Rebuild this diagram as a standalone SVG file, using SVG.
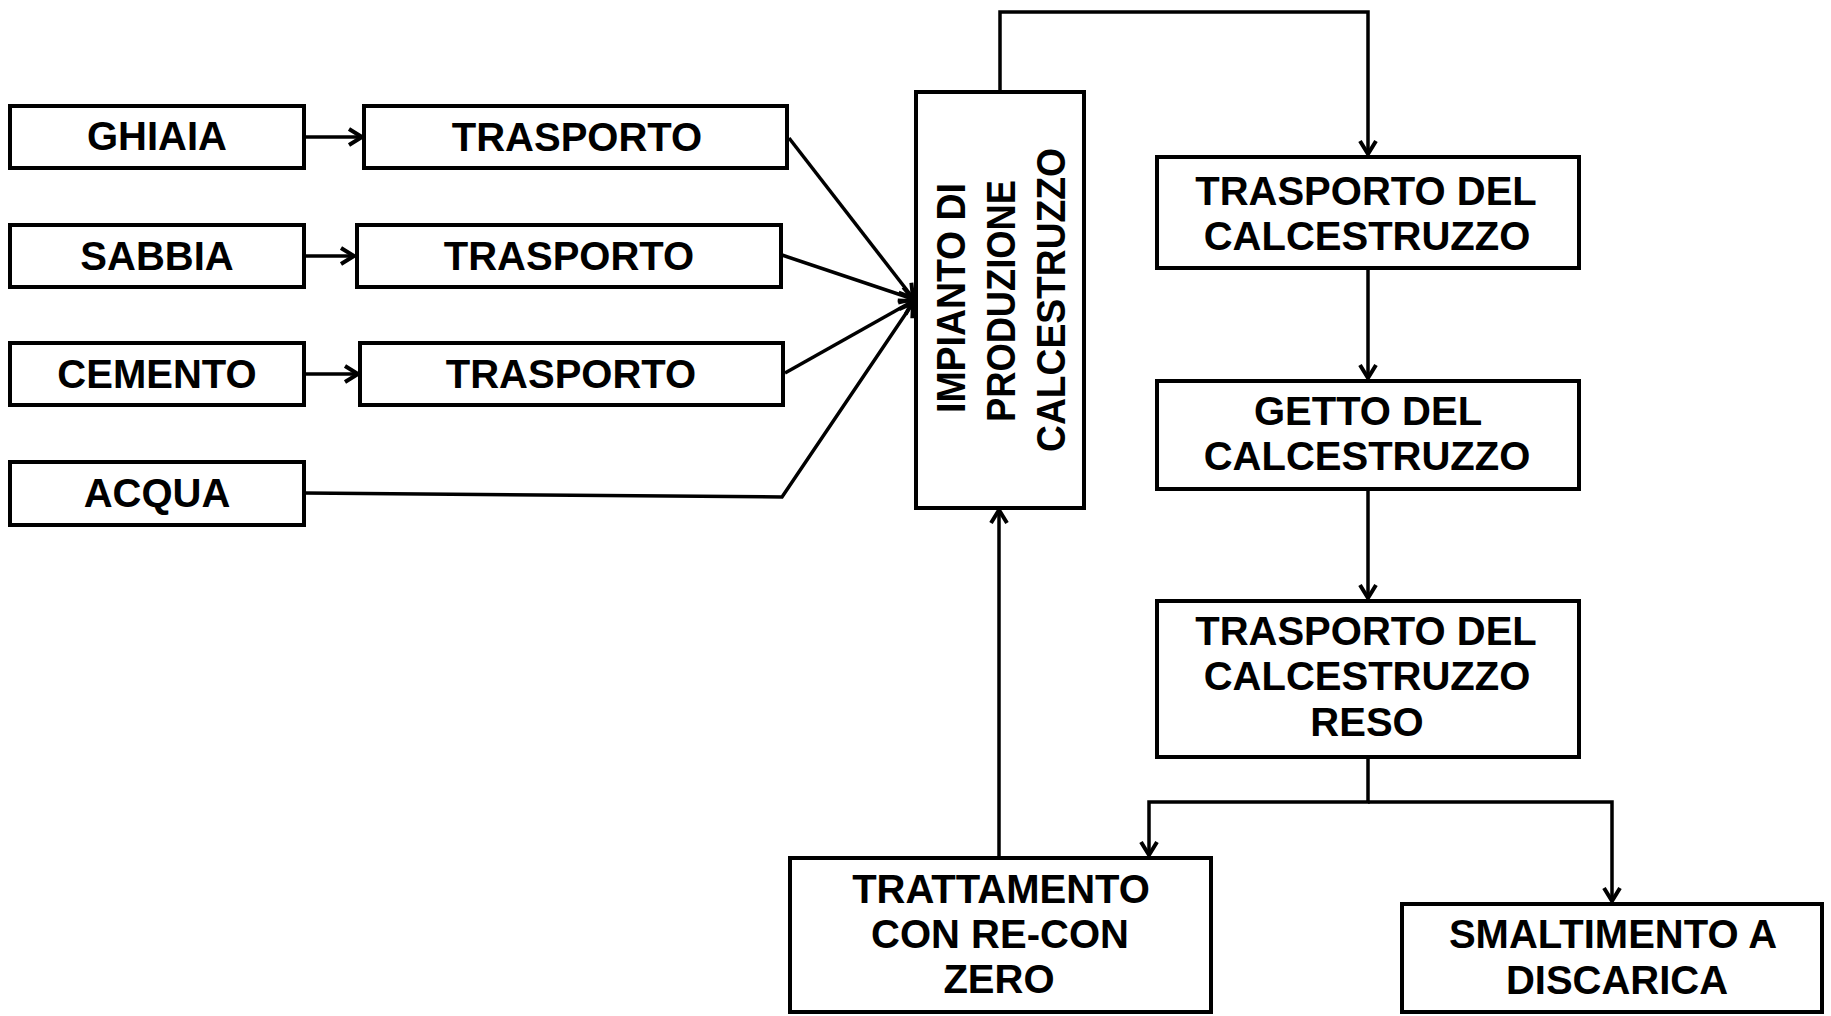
<svg xmlns="http://www.w3.org/2000/svg" width="1831" height="1016" viewBox="0 0 1831 1016">
<style>
.box{fill:#fff;stroke:#000;stroke-width:4}
.t{font-family:"Liberation Sans",Arial,sans-serif;font-weight:bold;font-size:40px;text-anchor:middle;fill:#000}
.c{fill:none;stroke:#000;stroke-width:3.5;stroke-linejoin:miter}
</style>
<defs>
<marker id="ah" markerUnits="userSpaceOnUse" markerWidth="18" markerHeight="20" refX="15" refY="10" orient="auto" viewBox="0 0 18 20">
<path d="M2,2 L15,10 L2,18" fill="none" stroke="#000" stroke-width="4"/>
</marker>
</defs>
<rect width="1831" height="1016" fill="#fff"/>
<g id="connectors">
<line class="c" x1="304" y1="137" x2="362" y2="137" marker-end="url(#ah)"/>
<line class="c" x1="304" y1="256" x2="354" y2="256" marker-end="url(#ah)"/>
<line class="c" x1="304" y1="374" x2="358" y2="374" marker-end="url(#ah)"/>
<line class="c" x1="789" y1="138" x2="913" y2="298" marker-end="url(#ah)"/>
<line class="c" x1="782" y1="255" x2="913" y2="299" marker-end="url(#ah)"/>
<line class="c" x1="785" y1="373" x2="913" y2="301" marker-end="url(#ah)"/>
<polyline class="c" points="304,493 782,497 913,303" marker-end="url(#ah)"/>
<polyline class="c" points="1000,91 1000,12 1368,12 1368,154" marker-end="url(#ah)"/>
<line class="c" x1="1368" y1="269" x2="1368" y2="378" marker-end="url(#ah)"/>
<line class="c" x1="1368" y1="490" x2="1368" y2="598" marker-end="url(#ah)"/>
<polyline class="c" points="1368,757 1368,802 1149,802 1149,855" marker-end="url(#ah)"/>
<polyline class="c" points="1368,802 1612,802 1612,901" marker-end="url(#ah)"/>
<line class="c" x1="999" y1="857" x2="999" y2="510" marker-end="url(#ah)"/>
</g>
<g id="ghiaia"><rect class="box" x="10" y="106" width="294" height="62"/><text class="t" x="157" y="150">GHIAIA</text></g>
<g id="trasporto1"><rect class="box" x="364" y="106" width="423" height="62"/><text class="t" x="577" y="151">TRASPORTO</text></g>
<g id="sabbia"><rect class="box" x="10" y="225" width="294" height="62"/><text class="t" x="157" y="270">SABBIA</text></g>
<g id="trasporto2"><rect class="box" x="357" y="225" width="424" height="62"/><text class="t" x="569" y="270">TRASPORTO</text></g>
<g id="cemento"><rect class="box" x="10" y="343" width="294" height="62"/><text class="t" x="157" y="388">CEMENTO</text></g>
<g id="trasporto3"><rect class="box" x="360" y="343" width="423" height="62"/><text class="t" x="571" y="388">TRASPORTO</text></g>
<g id="acqua"><rect class="box" x="10" y="462" width="294" height="63"/><text class="t" x="157" y="507">ACQUA</text></g>
<g id="impianto"><rect class="box" x="916" y="92" width="168" height="416"/>
<text class="t" transform="translate(965,298) rotate(-90)" x="0" y="0" textLength="230" lengthAdjust="spacingAndGlyphs">IMPIANTO DI</text>
<text class="t" transform="translate(1015,301) rotate(-90)" x="0" y="0" textLength="242" lengthAdjust="spacingAndGlyphs">PRODUZIONE</text>
<text class="t" transform="translate(1065,300) rotate(-90)" x="0" y="0" textLength="304" lengthAdjust="spacingAndGlyphs">CALCESTRUZZO</text>
</g>
<g id="trasporto-cls"><rect class="box" x="1157" y="157" width="422" height="111"/><text class="t" x="1366" y="205">TRASPORTO DEL</text><text class="t" x="1367" y="250">CALCESTRUZZO</text></g>
<g id="getto"><rect class="box" x="1157" y="381" width="422" height="108"/><text class="t" x="1368" y="425">GETTO DEL</text><text class="t" x="1367" y="470">CALCESTRUZZO</text></g>
<g id="trasporto-reso"><rect class="box" x="1157" y="601" width="422" height="156"/><text class="t" x="1366" y="645">TRASPORTO DEL</text><text class="t" x="1367" y="690">CALCESTRUZZO</text><text class="t" x="1367" y="736">RESO</text></g>
<g id="trattamento"><rect class="box" x="790" y="858" width="421" height="154"/><text class="t" x="1001" y="903">TRATTAMENTO</text><text class="t" x="1000" y="948">CON RE-CON</text><text class="t" x="999" y="993">ZERO</text></g>
<g id="smaltimento"><rect class="box" x="1402" y="904" width="420" height="108"/><text class="t" x="1613" y="948">SMALTIMENTO A</text><text class="t" x="1617" y="994">DISCARICA</text></g>
</svg>
